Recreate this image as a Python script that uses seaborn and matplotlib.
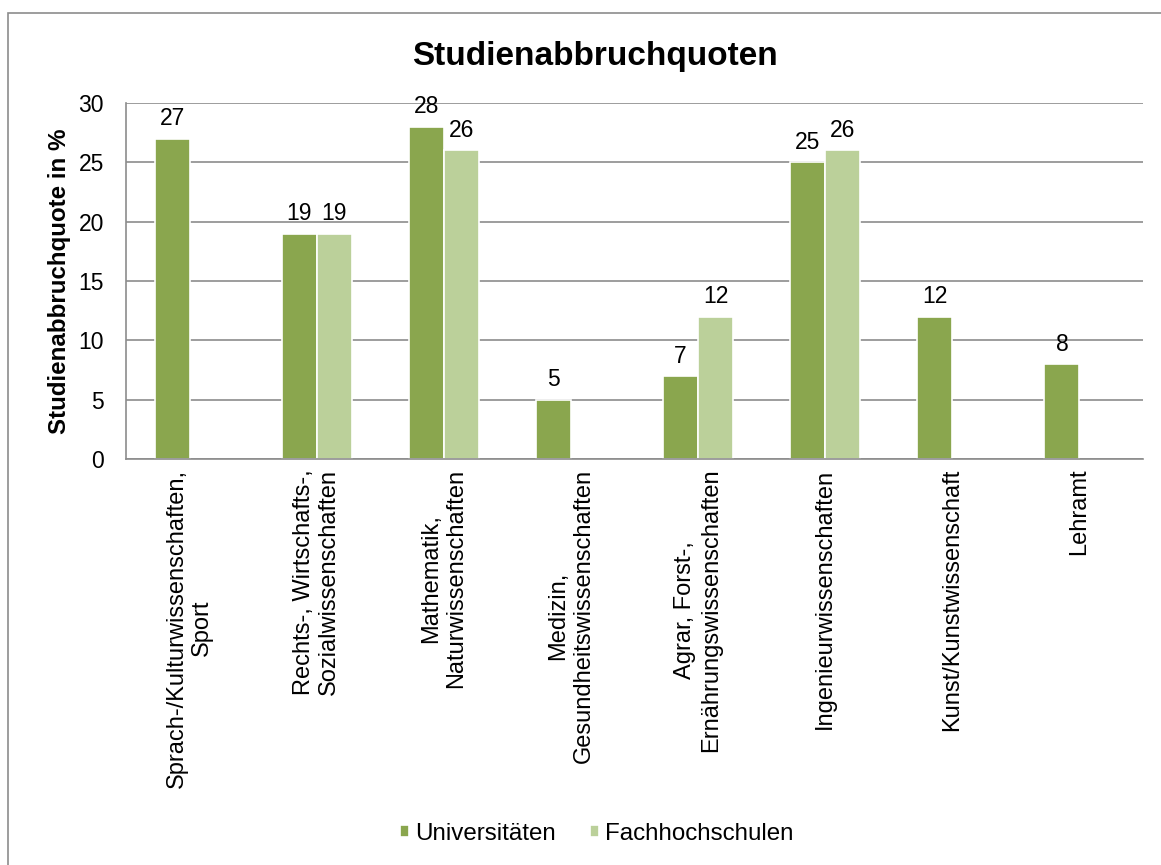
import matplotlib
matplotlib.use("Agg")
import matplotlib.pyplot as plt
import seaborn as sns
import pandas as pd
import numpy as np
from matplotlib.patches import Rectangle

categories = [
    "Sprach-/Kulturwissenschaften,\nSport",
    "Rechts-, Wirtschafts-,\nSozialwissenschaften",
    "Mathematik,\nNaturwissenschaften",
    "Medizin,\nGesundheitswissenschaften",
    "Agrar, Forst-,\nErnährungswissenschaften",
    "Ingenieurwissenschaften",
    "Kunst/Kunstwissenschaft",
    "Lehramt",
]
universitaeten = [27, 19, 28, 5, 7, 25, 12, 8]
fachhochschulen = [np.nan, 19, 26, np.nan, 12, 26, np.nan, np.nan]
series_names = ["Universitäten", "Fachhochschulen"]
colors = ["#8AA64E", "#BBD09A"]

df = pd.DataFrame({
    "Fach": categories * 2,
    "Quote": universitaeten + fachhochschulen,
    "Typ": [series_names[0]] * len(categories) + [series_names[1]] * len(categories),
})

sns.set_theme(style="white")
plt.rcParams["font.family"] = ["Liberation Sans", "DejaVu Sans"]
plt.rcParams["text.color"] = "black"
plt.rcParams["axes.labelcolor"] = "black"
plt.rcParams["xtick.color"] = "black"
plt.rcParams["ytick.color"] = "black"

fig = plt.figure(figsize=(11.61, 8.65), dpi=100)
ax = fig.add_axes([126 / 1161, 1 - 459 / 865, (1143 - 126) / 1161, (459 - 103) / 865])

sns.barplot(data=df, x="Fach", y="Quote", hue="Typ", order=categories,
            hue_order=series_names, palette=colors, width=0.55, ax=ax,
            edgecolor="white", linewidth=1.2, saturation=1, legend=True)

for cont in ax.containers:
    ax.bar_label(cont, fmt="%.0f", padding=6, fontsize=16.5, color="black")

ax.set_ylim(0, 30)
ax.set_yticks(range(0, 31, 5))
ax.set_xlim(-0.5, len(categories) - 0.5)
ax.yaxis.grid(True, color="#8C8C8C", linewidth=1.2)
ax.set_axisbelow(True)
for s in ["top", "right"]:
    ax.spines[s].set_visible(False)
for s in ["left", "bottom"]:
    ax.spines[s].set_color("#8C8C8C")
    ax.spines[s].set_linewidth(1.2)
ax.tick_params(axis="y", labelsize=16.5, length=0, pad=16)
ax.tick_params(axis="x", length=0, pad=7)
ax.set_xticks(range(len(categories)))
ax.set_xticklabels(categories, rotation=90, fontsize=17, ha="center", va="top",
                   multialignment="center")
ax.set_xlabel("")
ax.set_ylabel("Studienabbruchquote in %", fontsize=17.4, fontweight="bold", labelpad=5)

fig.text(595 / 1161, 1 - 57 / 865, "Studienabbruchquoten", ha="center", va="center",
         fontsize=24, fontweight="bold")

leg = ax.legend(loc="center left", bbox_to_anchor=(400 / 1161, 1 - 834 / 865),
                bbox_transform=fig.transFigure, ncol=2, frameon=False, fontsize=17.4,
                borderpad=0, borderaxespad=0,
                handlelength=0.38, handleheight=0.38, handletextpad=0.25, columnspacing=1.4)

fig.patches.append(Rectangle((8, -20), 1200, 865 - 13 + 20, transform=None,
                             fill=False, edgecolor="#8C8C8C", linewidth=1.2))

fig.savefig("out.png", dpi=100)
